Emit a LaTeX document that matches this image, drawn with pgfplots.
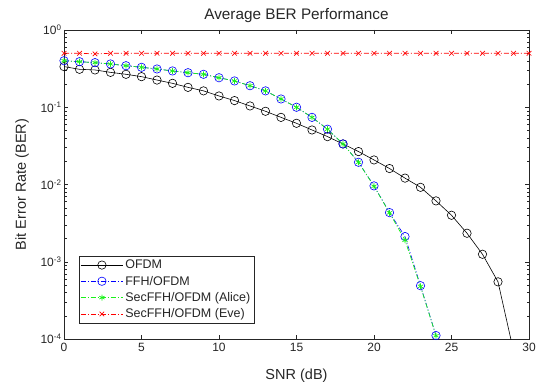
\documentclass[border=0pt]{standalone}
\usepackage{pgfplots}
\pgfplotsset{compat=1.18}
\usepackage{fontspec}
\setmainfont{Liberation Sans}
\definecolor{axgray}{rgb}{0.15,0.15,0.15}
\definecolor{mgreen}{rgb}{0.1,0.95,0.1}
\begin{document}
\begin{tikzpicture}
\useasboundingbox (-64pt,-45pt) rectangle (479pt,339pt);
\begin{axis}[
  at={(0,0)}, anchor=south west,
  scale only axis, width=465pt, height=309pt,
  xmin=0, xmax=30, ymin=1e-4, ymax=1,
  ymode=log,
  xtick={0,5,...,30},
  ytick={1e-4,1e-3,1e-2,1e-1,1},
  yticklabels={10\textsuperscript{-4},10\textsuperscript{-3},10\textsuperscript{-2},10\textsuperscript{-1},10\textsuperscript{0}},
  tick align=inside,
  axis line style={axgray, line width=0.5pt},
  every tick/.style={axgray, line width=0.4pt},
  major tick length=4pt, minor tick length=2.5pt,
  /pgf/number format/assume math mode=true,
  ticklabel style={font=\fontsize{12}{13}\selectfont, text=axgray},
  yticklabel style={xshift=1pt},
  xticklabel style={yshift=-1pt},
  xlabel={SNR (dB)}, ylabel={Bit Error Rate (BER)},
  label style={font=\fontsize{14.5}{16}\selectfont, text=axgray},
  xlabel style={at={(axis description cs:0.5,-0.12)}, anchor=center},
  ylabel style={at={(axis description cs:-0.0903,0.5)}, anchor=center},
  title={Average BER Performance},
  title style={font=\fontsize{15.3}{17}\selectfont, text=axgray, at={(axis description cs:0.5,1.013)}, anchor=base},
  legend style={font=\fontsize{12.5}{14}\selectfont, draw=axgray, line width=0.4pt, at={(0.032,0.052)}, anchor=south west, inner sep=1.5pt, row sep=1.8pt, text=axgray},
  legend cell align=left,
  legend image code/.code={\draw[mark repeat=2,mark phase=2,#1] plot coordinates {(0pt,0pt) (21pt,0pt) (42pt,0pt)};},
]
\addplot[black, line width=0.6pt, mark=o, mark size=4.2pt, mark options={solid}] coordinates {
(0,0.336)(1,0.31)(2,0.304)(3,0.283)(4,0.267)(5,0.249)(6,0.225)(7,0.204)(8,0.181)(9,0.163)
(10,0.14)(11,0.122)(12,0.104)(13,0.0887)(14,0.074)(15,0.062)(16,0.0508)(17,0.0417)(18,0.0335)
(19,0.0267)(20,0.0208)(21,0.0161)(22,0.0121)(23,0.0092)(24,0.00614)(25,0.0040)(26,0.00234)
(27,0.00125)(28,0.00055)(29,0.00007)};
\addlegendentry{OFDM}
\addplot[blue, line width=0.6pt, dash pattern=on 5pt off 2pt on 1pt off 2pt, mark=o, mark size=4.2pt, mark options={solid}] coordinates {
(0,0.40)(1,0.389)(2,0.378)(3,0.363)(4,0.345)(5,0.329)(6,0.313)(7,0.295)(8,0.28)(9,0.267)
(10,0.241)(11,0.219)(12,0.19)(13,0.163)(14,0.128)(15,0.1)(16,0.074)(17,0.052)(18,0.0335)
(19,0.0194)(20,0.0096)(21,0.00433)(22,0.00212)(23,0.00049)(24,0.000111)};
\addlegendentry{FFH/OFDM}
\addplot[mgreen, line width=0.7pt, dash pattern=on 5pt off 2pt on 1pt off 2pt, mark=asterisk, mark size=3pt, mark options={solid}] coordinates {
(0,0.40)(1,0.389)(2,0.378)(3,0.363)(4,0.345)(5,0.329)(6,0.313)(7,0.295)(8,0.28)(9,0.267)
(10,0.241)(11,0.219)(12,0.19)(13,0.163)(14,0.128)(15,0.1)(16,0.074)(17,0.052)(18,0.0335)
(19,0.0194)(20,0.0095)(21,0.0043)(22,0.0019)(23,0.00048)(24,0.00011)};
\addlegendentry{SecFFH/OFDM (Alice)}
\addplot[red, line width=0.7pt, dash pattern=on 5pt off 2pt on 1pt off 2pt, mark=x, mark size=3.2pt, mark options={solid}] coordinates {
(0,0.5)(1,0.5)(2,0.49)(3,0.5)(4,0.5)(5,0.5)(6,0.5)(7,0.5)(8,0.5)(9,0.5)
(10,0.5)(11,0.5)(12,0.5)(13,0.5)(14,0.5)(15,0.5)(16,0.5)(17,0.5)(18,0.5)(19,0.5)
(20,0.5)(21,0.5)(22,0.5)(23,0.5)(24,0.5)(25,0.5)(26,0.5)(27,0.5)(28,0.5)(29,0.5)(30,0.5)};
\addlegendentry{SecFFH/OFDM (Eve)}
\end{axis}
\end{tikzpicture}
\end{document}
